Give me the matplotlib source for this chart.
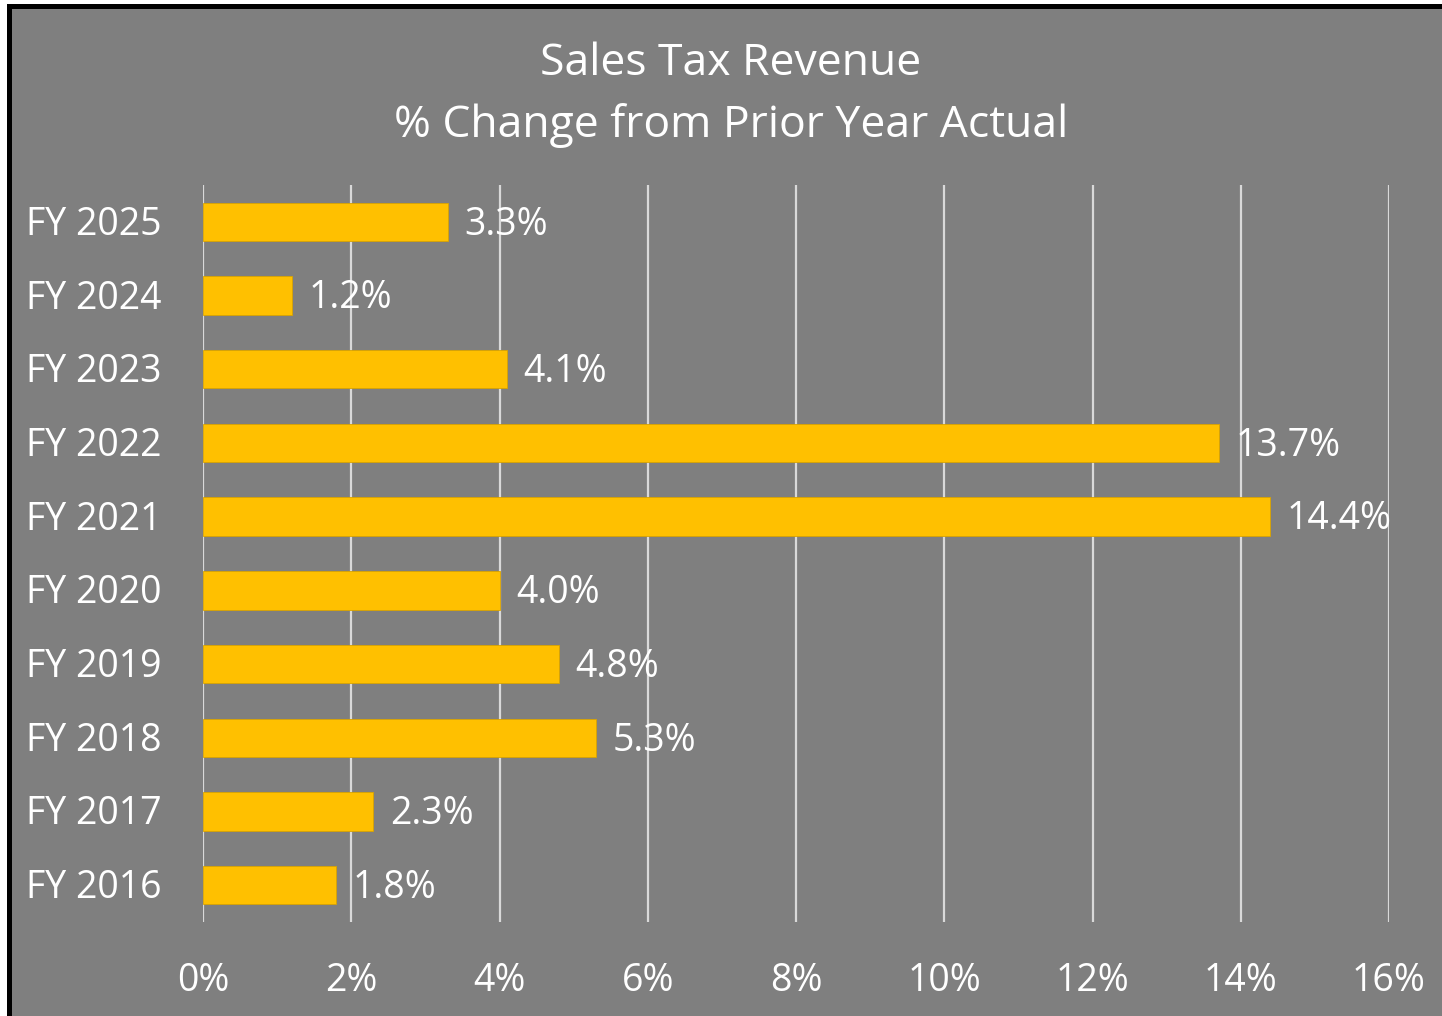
import matplotlib.pyplot as plt
import matplotlib.transforms as mtransforms
from matplotlib.patches import Rectangle

# Chart data (top to bottom as shown)
years = ["FY 2025", "FY 2024", "FY 2023", "FY 2022", "FY 2021",
         "FY 2020", "FY 2019", "FY 2018", "FY 2017", "FY 2016"]
pct_change = [3.3, 1.2, 4.1, 13.7, 14.4, 4.0, 4.8, 5.3, 2.3, 1.8]
x_ticks = [0, 2, 4, 6, 8, 10, 12, 14, 16]

plt.rcParams['font.family'] = ['Open Sans', 'DejaVu Sans']

bg = '#7F7F7F'
fig = plt.figure(figsize=(14.42, 10.16), dpi=100, facecolor='white')

# Gray chart area with black border on left/top (right/bottom run off the image)
W, H = 1442, 1016
fig.add_artist(Rectangle((9 / W, -0.05), 1.1, (1016 - 6) / H + 0.05,
                         transform=fig.transFigure, facecolor=bg,
                         edgecolor='black', linewidth=3.6, zorder=0))

ax = fig.add_axes([203 / W, 1 - 922 / H, (1389 - 203) / W, (922 - 185) / H])
ax.set_facecolor('none')

y_pos = list(range(len(years)))[::-1]
ax.barh(y_pos, pct_change, height=0.52, color='#FFC000', edgecolor='#D9A300',
        linewidth=0.6, zorder=3)

for y, v in zip(y_pos, pct_change):
    ax.annotate(f"{v:.1f}%", (v, y), xytext=(12, -2), textcoords='offset points',
                va='center', ha='left', color='white', fontsize=27, zorder=4)

ax.set_xlim(0, 16)
ax.set_ylim(-0.5, len(years) - 0.5)
ax.set_xticks(x_ticks)
ax.set_xticklabels([f"{t}%" for t in x_ticks])
ax.set_yticks(y_pos)
ax.set_yticklabels(years)
ax.tick_params(axis='both', length=0, colors='white', labelsize=27)
ax.tick_params(axis='x', pad=29)
ax.tick_params(axis='y', pad=30)

# line category labels up with bar centres
shift = mtransforms.ScaledTranslation(0, -3 / 100, fig.dpi_scale_trans)
for lbl in ax.get_yticklabels():
    lbl.set_va('center')
    lbl.set_transform(lbl.get_transform() + shift)

ax.grid(axis='x', color='#D9D9D9', linewidth=1.6, zorder=1)
for s in ax.spines.values():
    s.set_visible(False)

fig.text(731 / W, 1 - 95 / H, "Sales Tax Revenue\n% Change from Prior Year Actual",
         ha='center', va='center', color='white', fontsize=32, linespacing=1.5)

fig.savefig('out.png', dpi=100, facecolor='white')
